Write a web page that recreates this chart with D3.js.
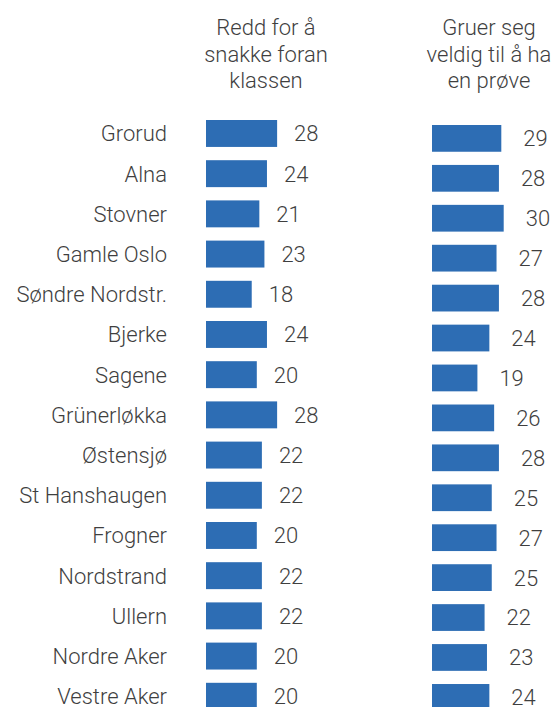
<!DOCTYPE html>
<html>
<head>
<meta charset="utf-8">
<script src="https://cdn.jsdelivr.net/npm/d3@7"></script>
<style>
  body { margin: 0; background: #fff; }
  svg text { font-family: Roboto, "Noto Sans", sans-serif; font-weight: 300; fill: #3f3f3f; }
</style>
</head>
<body>
<div id="chart"></div>
<script>
const districts = ["Grorud", "Alna", "Stovner", "Gamle Oslo", "Søndre Nordstr.", "Bjerke", "Sagene",
    "Grünerløkka", "Østensjø", "St Hanshaugen", "Frogner", "Nordstrand", "Ullern", "Nordre Aker", "Vestre Aker"]
const speakValues = [28, 24, 21, 23, 18, 24, 20, 28, 22, 22, 20, 22, 22, 20, 20]
const testValues = [29, 28, 30, 27, 28, 24, 19, 26, 28, 25, 27, 25, 22, 23, 24]
const speakTitle = ["Redd for å", "snakke foran", "klassen"]
const testTitle = ["Gruer seg", "veldig til å ha", "en prøve"]

const width = 555
const height = 707
const fontSize = 22

const svg = d3.select("#chart").append("svg")
    .attr("width", width)
    .attr("height", height)

// two separate little bar charts, one per question
const panels = [
    { values: speakValues, title: speakTitle, x0: 206, perUnit: 2.54, top: 120, step: 40.2, titleX: 266, gap: 17 },
    { values: testValues, title: testTitle, x0: 432, perUnit: 2.39, top: 125, step: 39.93, titleX: 489, gap: 22 }
]

panels.forEach((p, pi) => {
    const x = d3.scaleLinear()
        .domain([0, 10])
        .range([p.x0, p.x0 + 10 * p.perUnit])
    // band range starts at first bar top, step kept as measured
    const y = d3.scaleBand()
        .domain(districts)
        .range([p.top, p.top + p.step * districts.length - p.step * 0.33])
        .paddingInner(0.33)
        .paddingOuter(0)

    const g = svg.append("g")

    g.append("text")
        .attr("text-anchor", "middle")
        .attr("font-size", fontSize)
        .selectAll("tspan")
        .data(p.title)
        .join("tspan")
        .attr("x", p.titleX)
        .attr("y", (d, i) => 35 + i * 26.5)
        .text(d => d)

    g.selectAll("rect")
        .data(p.values)
        .join("rect")
        .attr("x", x(0))
        .attr("y", (d, i) => y(districts[i]))
        .attr("width", d => x(d) - x(0))
        .attr("height", y.bandwidth())
        .attr("fill", "#2d6db4")

    g.selectAll("text.value")
        .data(p.values)
        .join("text")
        .attr("class", "value")
        .attr("x", d => x(d) + p.gap)
        .attr("y", (d, i) => y(districts[i]) + y.bandwidth() / 2)
        .attr("dy", "0.36em")
        .attr("font-size", fontSize)
        .text(d => d)

    if (pi === 0) {
        g.selectAll("text.label")
            .data(districts)
            .join("text")
            .attr("class", "label")
            .attr("x", 167)
            .attr("y", d => y(d) + y.bandwidth() / 2)
            .attr("dy", "0.36em")
            .attr("text-anchor", "end")
            .attr("font-size", fontSize)
            .text(d => d)
    }
})
</script>
</body>
</html>
